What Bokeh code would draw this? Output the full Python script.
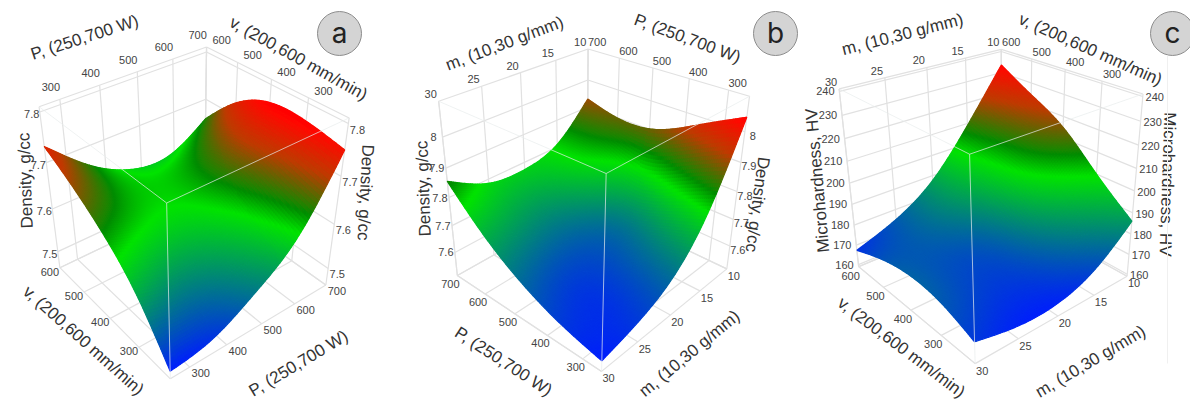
import numpy as np
from bokeh.embed import file_html
from bokeh.resources import INLINE
from bokeh.plotting import figure
from bokeh.layouts import row
from bokeh.models import Range1d
from bokeh.core.properties import value

# ---- data ----
P_nodes = [250, 362.5, 475, 587.5, 700]
v_nodes = [200, 300, 400, 500, 600]
m_nodes = [10, 15, 20, 25, 30]
P_ticks = [300, 400, 500, 600, 700]
v_ticks = [300, 400, 500, 600]
m_ticks = [10, 15, 20, 25, 30]
dens_a_ticks = [7.5, 7.6, 7.7, 7.8]
dens_b_ticks = [7.6, 7.7, 7.8, 7.9, 8]
hv_ticks = [160, 170, 180, 190, 200, 210, 220, 230, 240]

# density (g/cc): rows P, columns v
density_a = [
    [7.478, 7.582, 7.649, 7.696, 7.733],
    [7.495, 7.560, 7.620, 7.645, 7.656],
    [7.545, 7.585, 7.622, 7.628, 7.611],
    [7.617, 7.650, 7.675, 7.655, 7.607],
    [7.751, 7.766, 7.765, 7.728, 7.656],
]
# density (g/cc): rows m, columns P
density_b = [
    [8.046, 7.975, 7.910, 7.897, 7.930],
    [7.800, 7.740, 7.710, 7.790, 7.810],
    [7.652, 7.625, 7.625, 7.700, 7.773],
    [7.585, 7.575, 7.612, 7.700, 7.785],
    [7.548, 7.585, 7.645, 7.735, 7.856],
]
# microhardness (HV): rows m, columns v
hardness_c = [
    [186.0, 200.0, 215.0, 224.5, 233.6],
    [172.0, 186.0, 199.0, 204.0, 209.0],
    [165.3, 172.0, 178.0, 186.0, 187.7],
    [165.0, 170.0, 173.0, 176.0, 175.0],
    [168.8, 174.7, 176.0, 173.0, 167.4],
]

FONT = "Liberation Sans"
GRID = "#e1e1e1"
TICK_COL = "#444444"
TITLE_COL = "#333333"
CMAP_S = [0.0, 0.5, 0.60, 0.62, 0.80, 0.97, 1.0]
CMAP_R = [0, 0, 0, 25, 190, 255, 255]
CMAP_G = [30, 228, 140, 135, 60, 10, 0]
CMAP_B = [255, 0, 0, 0, 0, 0, 0]
N = 90


def dlt(corners):
    rows = []
    for (a, b, c), (x, y) in corners.items():
        X = [a, b, c, 1.0]
        rows.append(X + [0, 0, 0, 0] + [-x * t for t in X])
        rows.append([0, 0, 0, 0] + X + [-y * t for t in X])
    _, _, vt = np.linalg.svd(np.array(rows, float))
    M = vt[-1].reshape(3, 4)
    if M[2, 3] + M[2, 2] < 0:
        M = -M
    return M


def project(M, a, b, c):
    a, b, c = np.broadcast_arrays(np.asarray(a, float), np.asarray(b, float), np.asarray(c, float))
    h = np.stack([a, b, c, np.ones_like(a)], -1) @ M.T
    return h[..., 0] / h[..., 2], h[..., 1] / h[..., 2], h[..., 2]


def spline_basis(nodes, t):
    nodes = np.asarray(nodes, float)
    n = len(nodes)
    h = np.diff(nodes)
    A = np.zeros((n, n))
    R = np.zeros((n, n))
    A[0, 0] = A[-1, -1] = 1
    for i in range(1, n - 1):
        A[i, i - 1] = h[i - 1]
        A[i, i] = 2 * (h[i - 1] + h[i])
        A[i, i + 1] = h[i]
        R[i, i - 1] = 6 / h[i - 1]
        R[i, i] = -6 / h[i - 1] - 6 / h[i]
        R[i, i + 1] = 6 / h[i]
    D2 = np.linalg.solve(A, R)
    idx = np.clip(np.searchsorted(nodes, t, side="right") - 1, 0, n - 2)
    out = np.zeros((len(t), n))
    I = np.eye(n)
    for k, (ti, i) in enumerate(zip(t, idx)):
        s = (nodes[i + 1] - ti) / h[i]
        r = (ti - nodes[i]) / h[i]
        out[k] = s * I[i] + r * I[i + 1] + ((s ** 3 - s) * D2[i] + (r ** 3 - r) * D2[i + 1]) * h[i] ** 2 / 6
    return out


def colour(s):
    return ["#%02x%02x%02x" % (int(r), int(g), int(b)) for r, g, b in zip(
        np.interp(s, CMAP_S, CMAP_R), np.interp(s, CMAP_S, CMAP_G), np.interp(s, CMAP_S, CMAP_B))]


def panel(cfg):
    p = figure(width=cfg["w"], height=401, x_range=Range1d(cfg["x0"], cfg["x0"] + cfg["w"]),
               y_range=Range1d(401, 0), toolbar_location=None, output_backend="svg",
               x_axis_type=None, y_axis_type=None, min_border=0, outline_line_color=None)
    p.grid.visible = False
    ox = cfg["ox"]
    c = {k: (v[0] / 3 + ox, v[1] / 3) for k, v in cfg["corners"].items()}
    M = dlt(c)
    a0, a1 = cfg["a_range"]
    b0, b1 = cfg["b_range"]
    zlo, zhi = cfg["z_range"]
    U = lambda x: (np.asarray(x, float) - a0) / (a1 - a0)
    W = lambda x: (np.asarray(x, float) - b0) / (b1 - b0)
    Zn = lambda x: (np.asarray(x, float) - zlo) / (zhi - zlo)

    xs, ys = [], []

    def seg(a, b, cc, a2, b2, c2):
        x, y, _ = project(M, [a, a2], [b, b2], [cc, c2])
        xs.append(x.tolist())
        ys.append(y.tolist())

    for t in cfg["a_ticks"]:
        u = float(U(t))
        seg(u, 1, 0, u, 1, 1)
        seg(u, 0, 0, u, 1, 0)
    for t in cfg["b_ticks"]:
        w = float(W(t))
        seg(1, w, 0, 1, w, 1)
        seg(0, w, 0, 1, w, 0)
    for t in cfg["z_ticks"]:
        zz = float(Zn(t))
        seg(0, 1, zz, 1, 1, zz)
        seg(1, 0, zz, 1, 1, zz)
    for e in [(0, 1, 1, 1, 1, 1), (1, 1, 1, 1, 0, 1), (0, 1, 0, 0, 1, 1), (1, 0, 0, 1, 0, 1),
              (1, 1, 0, 1, 1, 1), (0, 1, 0, 0, 0, 0), (0, 0, 0, 1, 0, 0), (0, 1, 0, 1, 1, 0), (1, 0, 0, 1, 1, 0)]:
        seg(*e)
    p.multi_line(xs, ys, line_color=GRID, line_width=1.2)

    # surface
    ua = np.linspace(0, 1, N + 1)
    wa = np.linspace(0, 1, N + 1)
    node_u = U(cfg["a_nodes"])
    node_w = W(cfg["b_nodes"])
    oa = np.argsort(node_u)
    ob = np.argsort(node_w)
    Z = np.asarray(cfg["Z"], float)[oa][:, ob]
    F = spline_basis(node_u[oa], ua) @ Z @ spline_basis(node_w[ob], wa).T
    uu, ww = np.meshgrid(ua, wa, indexing="ij")
    sx, sy, sd = project(M, uu, ww, Zn(F))
    cells_x, cells_y, depth = [], [], []
    smin, smax = cfg["c_range"]
    mean = (F[:-1, :-1] + F[1:, :-1] + F[:-1, 1:] + F[1:, 1:]) / 4
    S = np.clip((mean - smin) / (smax - smin), 0, 1)
    for i in range(N):
        for j in range(N):
            cells_x.append([sx[i, j], sx[i + 1, j], sx[i + 1, j + 1], sx[i, j + 1]])
            cells_y.append([sy[i, j], sy[i + 1, j], sy[i + 1, j + 1], sy[i, j + 1]])
            depth.append(sd[i, j])
    fill = colour(S.ravel())
    order = np.argsort(depth)[::-1]
    p.patches([cells_x[k] for k in order], [cells_y[k] for k in order],
              fill_color=[fill[k] for k in order], line_color=[fill[k] for k in order], line_width=1.2)

    # near box edges run over the surface
    xs, ys = [], []
    for e in [(0, 0, 1, 0, 1, 1), (0, 0, 1, 1, 0, 1), (0, 0, 1, 0, 0, 0)]:
        seg(*e)
    p.multi_line(xs, ys, line_color="#e8ecec", line_alpha=0.7, line_width=1)

    # tick labels
    def labels(a, b, cc, txt, off):
        x, y, _ = project(M, a, b, cc)
        p.text(np.asarray(x + off[0]).tolist(), np.asarray(y + off[1]).tolist(), text=txt,
               text_font=value(FONT), text_font_size="11px", text_color=TICK_COL,
               text_align="center", text_baseline="middle")

    at = np.array(cfg["a_ticks"], float)
    bt = np.array(cfg["b_ticks"], float)
    zt = np.array(cfg["z_ticks"], float)
    off = cfg["offs"]
    labels(U(at), 1, 1, [str(t) for t in cfg["a_ticks"]], off["top_a"])
    labels(1, W(bt), 1, [str(t) for t in cfg["b_ticks"]], off["top_b"])
    labels(0, W(bt), 0, [str(t) for t in cfg["b_ticks"]], off["floor_b"])
    labels(U(at), 0, 0, [str(t) for t in cfg["a_ticks"]], off["floor_a"])
    labels(0, 1, Zn(zt), [str(t) for t in cfg["z_ticks"]], off["z_left"])
    labels(1, 0, Zn(zt), [str(t) for t in cfg["z_ticks"]], off["z_right"])

    for txt, x, y, ang in cfg["titles"]:
        p.text([x], [y], text=[txt], angle=[ang], angle_units="deg", text_font=value(FONT),
               text_font_size="17px", text_color=TITLE_COL, text_align="center", text_baseline="middle")

    bx, by, letter = cfg["badge"]
    p.scatter([bx], [by], size=44, marker="circle", fill_color="#d4d4d4", line_color="#8c8c8c", line_width=1)
    p.text([bx], [by - 1], text=[letter], text_font=value("Inter"), text_font_size="28px", text_color="#222222",
           text_align="center", text_baseline="middle")
    return p


panel_a = dict(
    w=400, x0=0, ox=0, a_range=(250, 700), b_range=(200, 600), z_range=(7.46, 7.81), c_range=(7.478, 7.766),
    a_nodes=P_nodes, b_nodes=v_nodes, Z=density_a, a_ticks=P_ticks, b_ticks=v_ticks, z_ticks=dens_a_ticks,
    corners={(0, 1, 1): (115, 320), (1, 1, 1): (620, 140), (1, 0, 1): (1045, 350), (0, 0, 1): (498, 608),
             (0, 1, 0): (177, 800), (0, 0, 0): (512, 1135), (1, 0, 0): (975, 855)},
    offs=dict(top_a=(-9, -12), top_b=(15, -7), floor_b=(-10, 4), floor_a=(11, 6), z_left=(-8, 2), z_right=(9, 6)),
    titles=[("P, (250,700 W)", 84, 37, 18), ("v, (200,600 mm/min)", 298, 58, -29),
            ("Density, g/cc", 25, 180, 92), ("Density, g/cc", 365, 192, -93),
            ("v, (200,600 mm/min)", 83, 340, -41.6), ("P, (250,700 W)", 298, 363, 31)],
    badge=(339, 33, "a"))
panel_b = dict(
    w=400, x0=400, ox=400, a_range=(30, 10), b_range=(250, 700), z_range=(7.51, 8.11), c_range=(7.548, 8.046),
    a_nodes=m_nodes, b_nodes=P_nodes, Z=density_b, a_ticks=m_ticks, b_ticks=P_ticks, z_ticks=dens_b_ticks,
    corners={(0, 1, 1): (115, 303), (1, 1, 1): (563, 145), (1, 0, 1): (1048, 288), (0, 0, 1): (615, 518),
             (0, 1, 0): (170, 825), (0, 0, 0): (605, 1113), (1, 0, 0): (978, 805)},
    offs=dict(top_a=(-8, -7), top_b=(9, -7), floor_b=(-7, 8), floor_a=(7, 7), z_left=(-9, 0), z_right=(8, 4)),
    titles=[("m, (10,30 g/mm)", 504, 43, 20.8), ("P, (250,700 W)", 687, 38, -20.3),
            ("Density, g/cc", 423, 188, 92), ("Density, g/cc", 757, 204, -97.7),
            ("P, (250,700 W)", 503, 361, -33), ("m, (10,30 g/mm)", 689, 353, 39.7)],
    badge=(775, 33, "b"))
panel_c = dict(
    w=390, x0=800, ox=790, a_range=(30, 10), b_range=(200, 600), z_range=(159, 241), c_range=(164, 234),
    a_nodes=m_nodes, b_nodes=v_nodes, Z=hardness_c, a_ticks=m_ticks, b_ticks=v_ticks, z_ticks=hv_ticks,
    corners={(0, 1, 1): (148, 265), (1, 1, 1): (630, 145), (1, 0, 1): (1060, 285), (0, 0, 1): (535, 458),
             (0, 1, 0): (205, 800), (0, 0, 0): (553, 1090), (1, 0, 0): (1010, 825)},
    offs=dict(top_a=(-8, -7), top_b=(10, -7), floor_b=(-8, 9), floor_a=(7, 7), z_left=(-14, 0), z_right=(12, 1)),
    titles=[("m, (10,30 g/mm)", 902, 34, 14.4), ("v, (200,600 mm/min)", 1090, 49, -23.9),
            ("Microhardness, HV", 817, 180, 95), ("Microhardness, HV", 1167, 184, -92),
            ("v, (200,600 mm/min)", 901, 347, -37), ("m, (10,30 g/mm)", 1090, 361, 30.6)],
    badge=(1172, 33, "c"))

fig_a, fig_b, fig_c = panel(panel_a), panel(panel_b), panel(panel_c)
fig_c.line([1167, 1167], [55, 363], line_color="#f0f0f0", line_width=1)
layout = row(fig_a, fig_b, fig_c, spacing=0)
open("out.html", "w").write(file_html(layout, INLINE))
